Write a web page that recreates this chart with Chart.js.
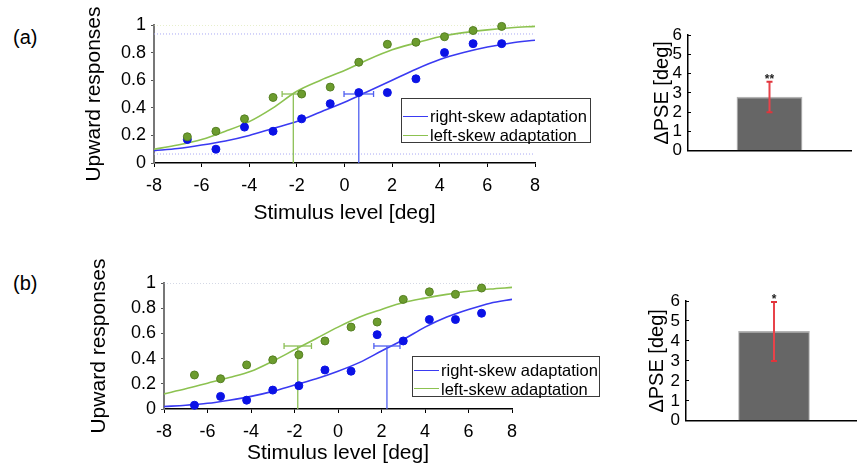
<!DOCTYPE html>
<html>
<head>
<meta charset="utf-8">
<script src="https://cdn.jsdelivr.net/npm/chart.js@4.4.0/dist/chart.umd.min.js"></script>
<style>
	body { margin: 0; width: 857px; height: 468px; overflow: hidden; background: #fff; position: relative; font-family: "Liberation Sans", Arial, sans-serif; }
	canvas { position: absolute; }
	.tag { position: absolute; font-size: 20px; line-height: 23px; }
	.legend { position: absolute; box-sizing: border-box; border: 1px solid #3a3a3a; background: #fff; font-size: 16.5px; padding-left: 1px; }
	.legend div { white-space: nowrap; display: flex; align-items: center; }
	.legend span { display: inline-block; width: 25px; height: 0; border-top: 1.6px solid; margin-right: 2px; }
</style>
</head>
<body>
<div class="tag" style="left:13px;top:26px">(a)</div>
<div class="tag" style="left:13px;top:272px">(b)</div>

<canvas id="psychA" width="600" height="228" style="left:0;top:0"></canvas>
<canvas id="barA" width="257" height="170" style="left:600px;top:0"></canvas>
<canvas id="psychB" width="600" height="228" style="left:0;top:240px"></canvas>
<canvas id="barB" width="268" height="170" style="left:600px;top:270px"></canvas>

<div class="legend" style="left:401px;top:98px;width:190px;height:45px;padding-top:8px;line-height:19px">
	<div><span style="border-color:#3a3af2"></span>right-skew adaptation</div>
	<div><span style="border-color:#8cc250"></span>left-skew adaptation</div>
</div>
<div class="legend" style="left:412px;top:356px;width:188px;height:41px;padding-top:4px;line-height:18.5px">
	<div><span style="border-color:#3a3af2"></span>right-skew adaptation</div>
	<div><span style="border-color:#8cc250"></span>left-skew adaptation</div>
</div>

<script>
"use strict"

// stimulus levels tested
const stimLevels = [-6.6, -5.4, -4.2, -3.0, -1.8, -0.6, 0.6, 1.8, 3.0, 4.2, 5.4, 6.6]

// (a) proportions
const aRight = [0.17, 0.10, 0.26, 0.23, 0.32, 0.43, 0.51, 0.51, 0.61, 0.80, 0.865, 0.865]
const aLeft = [0.19, 0.23, 0.32, 0.475, 0.50, 0.55, 0.73, 0.86, 0.875, 0.915, 0.96, 0.99]
// (b) proportions
const bRight = [0.03, 0.10, 0.07, 0.15, 0.185, 0.31, 0.30, 0.59, 0.54, 0.71, 0.71, 0.76]
const bLeft = [0.27, 0.24, 0.35, 0.39, 0.43, 0.54, 0.65, 0.69, 0.87, 0.93, 0.91, 0.96]

// fitted curves
const fitX = [-8, -7, -6, -5, -4, -3, -2, -1, 0, 1, 2, 3, 4, 5, 6, 7, 8]
const aRightFit = [0.09, 0.105, 0.13, 0.16, 0.2, 0.25, 0.3, 0.37, 0.44, 0.52, 0.6, 0.68, 0.75, 0.8, 0.84, 0.87, 0.89]
const aLeftFit = [0.10, 0.13, 0.17, 0.23, 0.30, 0.40, 0.52, 0.60, 0.67, 0.75, 0.82, 0.87, 0.915, 0.945, 0.965, 0.98, 0.99]
const bRightFit = [0.02, 0.03, 0.045, 0.07, 0.10, 0.14, 0.19, 0.24, 0.30, 0.37, 0.46, 0.55, 0.65, 0.73, 0.79, 0.84, 0.87]
const bLeftFit = [0.12, 0.16, 0.205, 0.25, 0.30, 0.38, 0.47, 0.56, 0.65, 0.73, 0.79, 0.845, 0.88, 0.91, 0.935, 0.952, 0.965]

// PSE and its error [right, left]
const aPse = [0.6, -2.15]
const aPseErr = [0.62, 0.47]
const bPse = [2.25, -1.85]
const bPseErr = [0.6, 0.63]

// asymptote guide lines
const aRightGuides = [0.065, 0.935]
const aLeftGuides = [1.0]
const bGuides = [1.0]

// delta PSE bars
const barLabels = ["ΔPSE"]
const aDelta = [2.8]
const aDeltaErr = [2.0, 3.58]
const aStars = ["**"]
const bDelta = [4.5]
const bDeltaErr = [3.0, 5.95]
const bStars = ["*"]

Chart.defaults.font.family = "'Liberation Sans', Arial, sans-serif"
Chart.defaults.color = "#000"
Chart.defaults.animation = false

const BLUE = "#0b12e6"
const BLUE_LINE = "#3a3af2"
const GREEN = "#6c9c2e"
const GREEN_LINE = "#8cc250"

function pairs(xs, ys) {
	return xs.map((x, i) => ({ x: x, y: ys[i] }))
}

function guide(y, color) {
	return {
		data: [{ x: -8, y: y }, { x: 8, y: y }],
		showLine: true,
		borderColor: color,
		borderWidth: 1,
		borderDash: [1, 2],
		pointRadius: 0,
	}
}

function pseSets(pse, err, color) {
	return [
		{
			data: [{ x: pse, y: 0 }, { x: pse, y: 0.5 }],
			showLine: true,
			borderColor: color,
			borderWidth: 1.3,
			pointRadius: 0,
		},
		{
			data: [{ x: pse - err, y: 0.5 }, { x: pse + err, y: 0.5 }],
			showLine: true,
			borderColor: color,
			borderWidth: 1.3,
			pointStyle: "line",
			rotation: 90,
			pointRadius: 3,
			pointBorderWidth: 1.3,
			pointBorderColor: color,
		},
	]
}

function psychChart(id, right, left, rightFit, leftFit, pse, pseErr, guides, box) {
	const sets = [
		{
			data: pairs(stimLevels, left),
			backgroundColor: GREEN,
			borderColor: "#557f22",
			borderWidth: 1,
			pointRadius: 4,
			clip: false,
		},
		{
			data: pairs(stimLevels, right),
			backgroundColor: BLUE,
			borderColor: BLUE,
			borderWidth: 1,
			pointRadius: 4,
			clip: false,
		},
		...pseSets(pse[1], pseErr[1], "#8cbf55"),
		...pseSets(pse[0], pseErr[0], "#4f5ff0"),
		{
			data: pairs(fitX, leftFit),
			showLine: true,
			borderColor: GREEN_LINE,
			borderWidth: 1.6,
			pointRadius: 0,
			cubicInterpolationMode: "monotone",
		},
		{
			data: pairs(fitX, rightFit),
			showLine: true,
			borderColor: BLUE_LINE,
			borderWidth: 1.6,
			pointRadius: 0,
			cubicInterpolationMode: "monotone",
		},
		...guides,
	]

	return new Chart(document.getElementById(id), {
		type: "scatter",
		data: { datasets: sets },
		options: {
			responsive: false,
			maintainAspectRatio: false,
			layout: { padding: { left: box.left, top: box.top, right: box.right, bottom: 0 } },
			plugins: { legend: { display: false }, tooltip: { enabled: false } },
			scales: {
				x: {
					type: "linear",
					min: -8,
					max: 8,
					ticks: { stepSize: 2, font: { size: 18 }, padding: 8 },
					grid: { drawOnChartArea: false, tickLength: 4, color: "#000" },
					border: { color: "#000", width: 1.5 },
					title: { display: true, text: "Stimulus level [deg]", font: { size: 21 }, padding: 2 },
					afterFit: function (s) {
						s.height = box.xh
					},
				},
				y: {
					min: 0,
					max: 1,
					ticks: {
						stepSize: 0.2,
						font: { size: 18 },
						padding: 5,
						autoSkip: false,
						callback: function (v) {
							return String(+v.toFixed(1))
						},
					},
					grid: { drawOnChartArea: false, tickLength: 3, color: "#555" },
					border: { color: "#777", width: 2 },
					title: { display: true, text: "Upward responses", font: { size: 21 }, padding: 2 },
					afterFit: function (s) {
						s.width = box.yw
					},
				},
			},
		},
	})
}

psychChart("psychA", aRight, aLeft, aRightFit, aLeftFit, aPse, aPseErr,
	[guide(aLeftGuides[0], "#cfe09a"), guide(aRightGuides[0], "#a8a8f4"), guide(aRightGuides[1], "#a8a8f4")],
	{ left: 80, top: 25, right: 65, yw: 74, xh: 65 })

psychChart("psychB", bRight, bLeft, bRightFit, bLeftFit, bPse, bPseErr,
	[guide(bGuides[0], "#a9b2cc")],
	{ left: 85, top: 43, right: 88, yw: 79, xh: 59 })

// significance stars above the error bar
const starPlugin = {
	id: "stars",
	afterDatasetsDraw(chart, args, opts) {
		const top = chart.getDatasetMeta(0).data[1]
		const ctx = chart.ctx
		ctx.save()
		ctx.font = "bold 12px 'Liberation Sans', Arial, sans-serif"
		ctx.fillStyle = "#222"
		ctx.textAlign = "center"
		ctx.textBaseline = "alphabetic"
		ctx.fillText(opts.text, top.x, top.y + 1)
		ctx.restore()
	},
}

function barChart(id, delta, err, stars, box) {
	return new Chart(document.getElementById(id), {
		data: {
			labels: barLabels,
			datasets: [
				{
					type: "line",
					data: [{ x: barLabels[0], y: err[0] }, { x: barLabels[0], y: err[1] }],
					borderColor: "#e8434a",
					borderWidth: 2,
					pointStyle: "line",
					pointRadius: 3,
					pointBorderWidth: 2,
					pointBorderColor: "#e0343b",
					order: 0,
				},
				{
					type: "bar",
					data: delta,
					backgroundColor: "#666666",
					borderColor: "#b4b4b4",
					borderWidth: { top: 1.5, left: 1, right: 1, bottom: 0 },
					borderSkipped: "bottom",
					barPercentage: box.bar,
					categoryPercentage: 1,
					order: 1,
				},
			],
		},
		plugins: [starPlugin],
		options: {
			responsive: false,
			maintainAspectRatio: false,
			layout: { padding: { left: box.left, top: box.top, right: box.right, bottom: 0 } },
			plugins: { legend: { display: false }, tooltip: { enabled: false }, stars: { text: stars[0] } },
			scales: {
				x: {
					type: "category",
					ticks: { display: false },
					grid: { display: false },
					border: { display: true, color: "#000", width: 1.5 },
					afterFit: function (s) {
						s.height = 18
					},
				},
				y: {
					min: 0,
					max: 6,
					ticks: { stepSize: 1, font: { size: 17 }, padding: 9, autoSkip: false },
					grid: { drawOnChartArea: false, tickLength: -3, color: "#000" },
					border: { color: "#000", width: 1.5 },
					title: { display: true, text: "ΔPSE [deg]", font: { size: 20 }, padding: 2 },
					afterFit: function (s) {
						s.width = box.yw
					},
				},
			},
		},
	})
}

barChart("barA", aDelta, aDeltaErr, aStars, { left: 48, top: 35, right: 3, yw: 40, bar: 0.404 })
barChart("barB", bDelta, bDeltaErr, bStars, { left: 43, top: 31, right: 0, yw: 43, bar: 0.407 })
</script>
</body>
</html>
